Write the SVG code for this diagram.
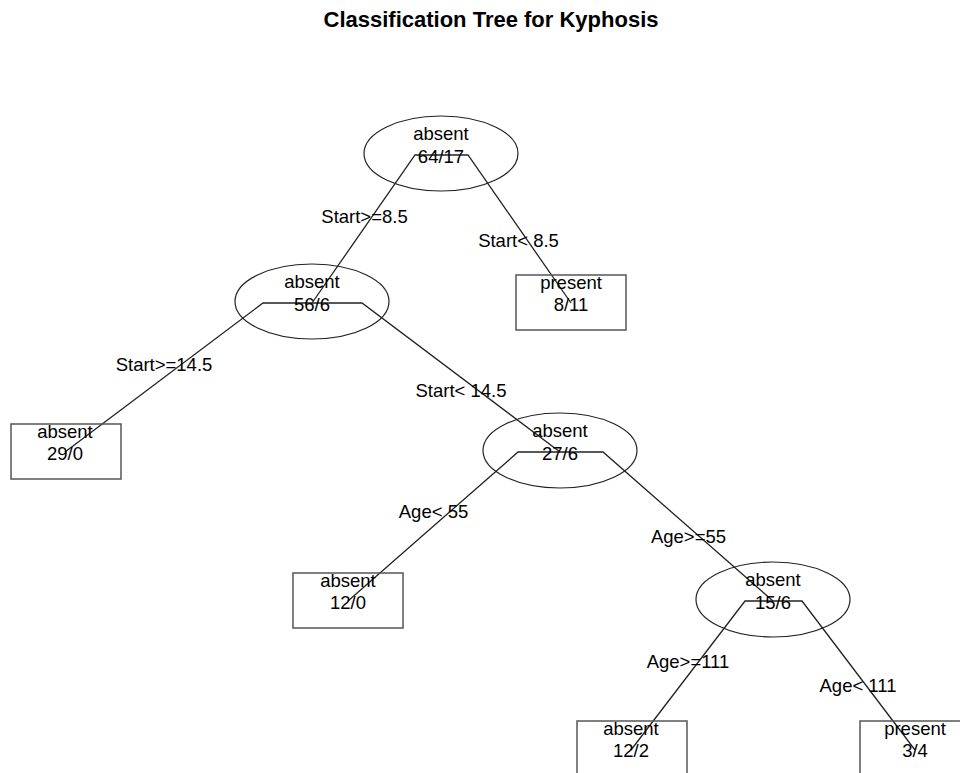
<svg xmlns="http://www.w3.org/2000/svg" width="960" height="773" viewBox="0 0 960 773">
  <style>
    .bg { fill: #ffffff; }
    .title { font-family: "Liberation Sans", Arial, sans-serif; font-size: 22px; font-weight: bold; fill: #000; text-anchor: middle; }
    .lbl { font-family: "Liberation Sans", Arial, sans-serif; font-size: 18.5px; fill: #000; text-anchor: middle; }
    .edge { fill: none; stroke: #222; stroke-width: 1.3; }
    .split { fill: none; stroke: #222; stroke-width: 1.2; }
    .leaf { fill: none; stroke: #555; stroke-width: 1.5; }
  </style>

  <rect class="bg" x="0" y="0" width="960" height="773"/>

  <text class="title" x="491" y="27">Classification Tree for Kyphosis</text>

  <!-- branches: horizontal fork at each split, then a diagonal to each child -->
  <g id="connectors">
    <path class="edge" d="M312,303 L415,155 L468,155 L571,303"/>
    <path class="edge" d="M65,452 L263,303 L362,303 L560,452"/>
    <path class="edge" d="M348,601 L518,452 L603,452 L773,601"/>
    <path class="edge" d="M631,750 L745,601 L802,601 L915,750"/>
    <text class="lbl" x="364.5" y="223">Start&gt;=8.5</text>
    <text class="lbl" x="518.5" y="247">Start&lt; 8.5</text>
    <text class="lbl" x="164" y="371">Start&gt;=14.5</text>
    <text class="lbl" x="461" y="397">Start&lt; 14.5</text>
    <text class="lbl" x="433.5" y="518">Age&lt; 55</text>
    <text class="lbl" x="688.5" y="543">Age&gt;=55</text>
    <text class="lbl" x="688" y="668">Age&gt;=111</text>
    <text class="lbl" x="858" y="692">Age&lt; 111</text>
  </g>

  <!-- split nodes -->
  <g id="node1">
    <ellipse class="split" cx="441" cy="153.5" rx="77" ry="37.5"/>
    <text class="lbl" x="441" y="139.5">absent</text>
    <text class="lbl" x="441" y="162.5">64/17</text>
  </g>
  <g id="node2">
    <ellipse class="split" cx="312" cy="301.5" rx="77" ry="37.5"/>
    <text class="lbl" x="312" y="287.5">absent</text>
    <text class="lbl" x="312" y="310.5">56/6</text>
  </g>
  <g id="node5">
    <ellipse class="split" cx="560" cy="450.5" rx="77" ry="37.5"/>
    <text class="lbl" x="560" y="436.5">absent</text>
    <text class="lbl" x="560" y="459.5">27/6</text>
  </g>
  <g id="node11">
    <ellipse class="split" cx="773" cy="599.5" rx="77" ry="37.5"/>
    <text class="lbl" x="773" y="585.5">absent</text>
    <text class="lbl" x="773" y="608.5">15/6</text>
  </g>

  <!-- terminal nodes -->
  <g id="node3">
    <rect class="leaf" x="516" y="275" width="110" height="55"/>
    <text class="lbl" x="571" y="288.5">present</text>
    <text class="lbl" x="571" y="310.5">8/11</text>
  </g>
  <g id="node4">
    <rect class="leaf" x="11" y="424" width="110" height="55"/>
    <text class="lbl" x="65" y="437.5">absent</text>
    <text class="lbl" x="65" y="459.5">29/0</text>
  </g>
  <g id="node10">
    <rect class="leaf" x="293" y="573" width="110" height="55"/>
    <text class="lbl" x="348" y="586.5">absent</text>
    <text class="lbl" x="348" y="608.5">12/0</text>
  </g>
  <g id="node22">
    <rect class="leaf" x="577" y="721" width="110" height="55"/>
    <text class="lbl" x="631" y="734.5">absent</text>
    <text class="lbl" x="631" y="756.5">12/2</text>
  </g>
  <g id="node23">
    <rect class="leaf" x="860" y="721" width="110" height="55"/>
    <text class="lbl" x="915" y="734.5">present</text>
    <text class="lbl" x="915" y="756.5">3/4</text>
  </g>
</svg>
